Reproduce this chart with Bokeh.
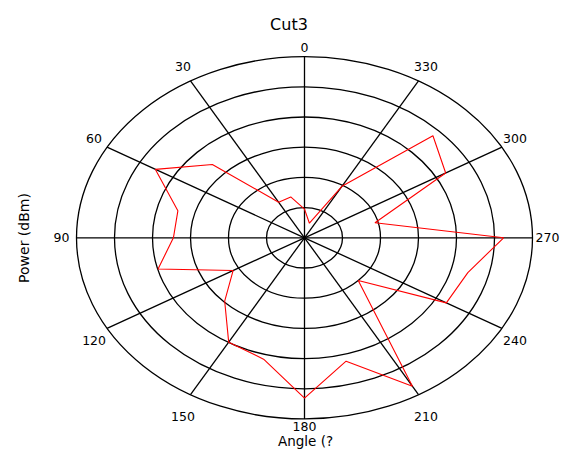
import numpy as np
from bokeh.plotting import figure
from bokeh.models import Range1d, Label
from bokeh.core.properties import value
from bokeh.embed import file_html
from bokeh.resources import INLINE

# ---------------- data ----------------
ANGLES_DEG = [0, 15, 30, 45, 60, 75, 90, 105, 120, 135, 150, 165,
              180, 195, 210, 225, 240, 255, 270, 285, 300, 315, 330, 345]
POWER_DBM = [-50.5, -46.0, -46.4, -25.7, -14.7, -25.5, -25.5, -20.1,
             -38.3, -30.3, -20.1, -18.4, -6.9, -17.7, -3.2, -40.0,
             -16.9, -15.5, -7.6, -40.8, -17.1, -12.2, -40.3, -55.0]
R_MIN = -60.0
R_STEP = 10.0
RINGS_DBM = [-50, -40, -30, -20, -10, 0]
SPOKE_ANGLES = [0, 30, 60, 90, 120, 150, 180, 210, 240, 270, 300, 330]
SPOKE_LABELS = ["0", "30", "60", "90", "120", "150", "180", "210", "240", "270", "300", "330"]
TITLE = "Cut3"
X_LABEL = "Angle (?"
Y_LABEL = "Power (dBm)"

# ---------------- layout ----------------
FIG_W, FIG_H = 560, 452
CX_PX, CY_PX = 304.0, 237.3          # polar centre in figure pixels (from top-left)
RING_PX_X, RING_PX_Y = 38.0, 30.2    # pixels per ring step
FONT = "DejaVu Sans"


def px_to_data(px, py):
    return ((px - CX_PX) / RING_PX_X, (CY_PX - py) / RING_PX_Y)


p = figure(width=FIG_W, height=FIG_H, output_backend="svg", toolbar_location=None,
           x_axis_location=None, y_axis_location=None, min_border=0,
           x_range=Range1d(-CX_PX / RING_PX_X, (FIG_W - CX_PX) / RING_PX_X),
           y_range=Range1d(-(FIG_H - CY_PX) / RING_PX_Y, CY_PX / RING_PX_Y))
p.grid.visible = False
p.outline_line_color = None
p.background_fill_color = "white"
p.border_fill_color = "white"

# rings
ring_r = [(v - R_MIN) / R_STEP for v in RINGS_DBM]
p.ellipse(x=[0] * len(ring_r), y=[0] * len(ring_r),
          width=[2 * r for r in ring_r], height=[2 * r for r in ring_r],
          fill_alpha=0, line_color="black", line_width=1.3)

# spokes
r_out = max(ring_r)
th = np.radians(SPOKE_ANGLES)
p.segment(x0=[0] * len(th), y0=[0] * len(th),
          x1=list(-r_out * np.sin(th)), y1=list(r_out * np.cos(th)),
          line_color="black", line_width=1.3)

# angle labels
lab_x, lab_y = [], []
for a in SPOKE_ANGLES:
    t = np.radians(a)
    s, c = np.sin(t), np.cos(t)
    k = min(1.0, 2 * abs(s))
    hx = 243.0
    vy = (190 + 8 * k) if c > 0 else (189 + 17 * k)
    lab_x.append(-hx * s / RING_PX_X)
    lab_y.append(vy * c / RING_PX_Y)
p.text(x=lab_x, y=lab_y, text=SPOKE_LABELS, text_align="center", text_baseline="middle",
       text_font=value(FONT), text_font_size="12.5px", text_color="black")

# data trace (closed)
r_data = [(v - R_MIN) / R_STEP for v in POWER_DBM]
td = np.radians(ANGLES_DEG)
xs = list(-np.array(r_data) * np.sin(td))
ys = list(np.array(r_data) * np.cos(td))
xs.append(xs[0])
ys.append(ys[0])
p.line(xs, ys, line_color="red", line_width=1.1)

# titles
tx, ty = px_to_data(288.5, 24)
p.add_layout(Label(x=tx, y=ty, text=TITLE, text_align="center", text_baseline="alphabetic",
                   text_font=FONT, text_font_size="16px", text_color="black"))
xx, xy = px_to_data(305, 448)
p.text(x=[xx], y=[xy], text=[X_LABEL], text_align="center", text_baseline="bottom",
       text_font=value(FONT), text_font_size="13.5px", text_color="black")
yx, yy = px_to_data(23.5, 237.5)
p.add_layout(Label(x=yx, y=yy, text=Y_LABEL, angle=np.pi / 2, text_align="center",
                   text_baseline="alphabetic", text_font=FONT, text_font_size="14px",
                   text_color="black"))

open("out.html", "w").write(file_html(p, INLINE))
